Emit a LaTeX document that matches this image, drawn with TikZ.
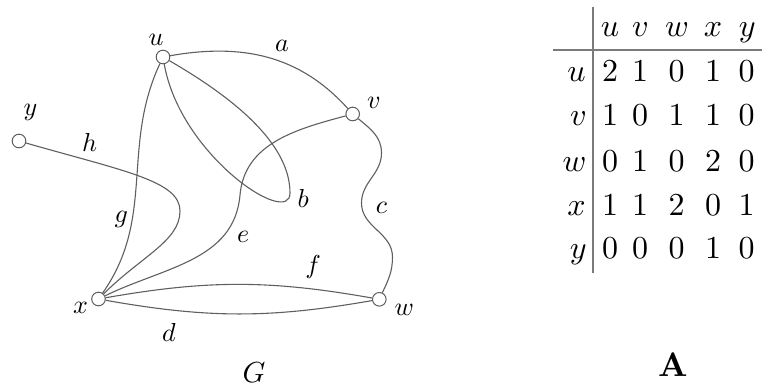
\documentclass[tikz,border=0pt]{standalone}
\usepackage{amsmath}
\usepackage{xcolor}
\usepackage{tikz}
\usetikzlibrary{positioning,calc}
\definecolor{edgegray}{HTML}{5F5F5F}
\definecolor{rulegray}{HTML}{7A7A7A}
% Computer Modern at its 10pt design, scaled up
\font\labmi=cmmi10 at 13pt
\font\namemi=cmmi10 at 14.5pt
\font\tabmi=cmmi10 at 16pt
\font\tabrm=cmr10 at 16pt
\font\namebf=cmbx10 at 17pt

\begin{document}
\begin{tikzpicture}[
  x=0.5pt, y=0.5pt,
  every node/.style={font=\labmi},
  vertex/.style={circle, draw=edgegray, fill=white, line width=0.5pt, minimum size=6.8pt, inner sep=0pt},
  edge/.style={draw=edgegray, line width=0.55pt},
  lbl/.style={inner sep=0pt},
  entry/.style={inner sep=0pt, font=\tabrm},
  head/.style={entry, font=\tabmi},
  rule/.style={draw=rulegray, line width=1pt},
]
\useasboundingbox (0,0) rectangle (762,-387);

% vertices of G
\node[vertex] (u) at (163,-57) {};
\node[vertex] (v) at (352.7,-114) {};
\node[vertex] (w) at (379.3,-299.3) {};
\node[vertex] (x) at (98.5,-299) {};
\node[vertex] (y) at (19,-141) {};

% turning points of the bent edges
\coordinate (bturn) at (290,-193);
\coordinate (cright) at (381.5,-153);
\coordinate (cleft) at (361.5,-203);
\coordinate (cdown) at (392.5,-257);
\coordinate (emid) at (240,-195);
\coordinate (hmid) at (180,-211);

\draw[edge] (u) to[out=10, in=132] (v);
\draw[edge] (u) .. controls +(-30:80) and +(90:50) .. (bturn) .. controls +(-90:35) and +(-80:100) .. (u);
\draw[edge] (v) to[out=-40, in=90] (cright) to[out=-90, in=90] (cleft) to[out=-90, in=90] (cdown) to[out=-90, in=65] (w);
\draw[edge] (x) to[bend right=10] (w);
\draw[edge] (x) to[out=26, in=-95] (emid) to[out=85, in=195] (v);
\draw[edge] (x) to[bend left=10] (w);
\draw[edge] (x) to[out=55, in=-115] (u);
\draw[edge] (y) .. controls +(-16:110) and +(90:30) .. (hmid) .. controls +(-90:30) and +(45:60) .. (x);

% vertex and edge labels
\node[lbl] (lab-u) at (156,-40) {u};
\node[lbl] (lab-v) at (373.5,-102.5) {v};
\node[lbl] (lab-w) at (404,-310) {w};
\node[lbl] (lab-x) at (80.5,-307.5) {x};
\node[lbl] (lab-y) at (30,-112) {y};
\node[lbl] (lab-a) at (282,-46) {a};
\node[lbl] (lab-b) at (303.3,-198.3) {b};
\node[lbl] (lab-c) at (381.5,-208) {c};
\node[lbl] (lab-d) at (169,-332) {d};
\node[lbl] (lab-e) at (243.3,-236.7) {e};
\node[lbl] (lab-f) at (311.7,-267.3) {f};
\node[lbl] (lab-g) at (120.7,-219.3) {g};
\node[lbl] (lab-h) at (89.5,-142) {h};
\node[lbl, font=\namemi] (name-G) at (254,-373) {G};

% adjacency matrix
\draw[rule] (592.7,-6.7) -- (592.7,-273);
\draw[rule] (553,-50) -- (762,-50);
\foreach \cname/\cx [count=\j] in {u/610,v/640,w/676.7,x/713,y/746.7}
  \node[head, anchor=base] (col-\j) at (\cx,-36.7) {\cname};
\foreach \rname/\ry/\vals in {u/81.7/{2,1,0,1,0}, v/125/{1,0,1,1,0}, w/171.7/{0,1,0,2,0}, x/215/{1,1,2,0,1}, y/258.3/{0,0,0,1,0}} {
  \node[head, anchor=base east] (row-\rname) at (586,-\ry) {\rname};
  \foreach \val [count=\j] in \vals
    \node[entry, anchor=base] (cell-\rname-\j) at (col-\j.base |- row-\rname.base) {\val};
}
\node[lbl, font=\namebf] (name-A) at (673,-364.5) {A};

\end{tikzpicture}
\end{document}
